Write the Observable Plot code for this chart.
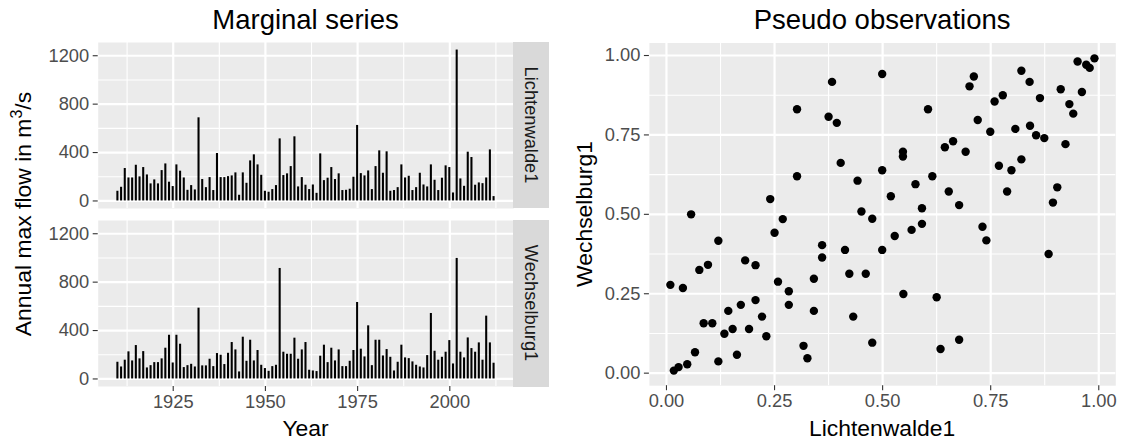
<!DOCTYPE html>
<html><head><meta charset="utf-8">
<script src="https://cdn.jsdelivr.net/npm/d3@7"></script>
<script src="https://cdn.jsdelivr.net/npm/@observablehq/plot@0.6"></script>
<style>
body{margin:0;background:#fff;font-family:"Liberation Sans",Arial,Helvetica,sans-serif;}
#wrap{position:relative;width:1123px;height:441px;overflow:hidden;background:#fff;}
#wrap svg{position:absolute;top:0;}
.t{position:absolute;white-space:nowrap;line-height:1;}
.strip{position:absolute;background:#d9d9d9;}
</style></head><body><div id="wrap"></div><script>
// ---- data ----
const stations = ["Lichtenwalde1", "Wechselburg1"];
const years = [1910,1911,1912,1913,1914,1915,1916,1917,1918,1919,
1920,1921,1922,1923,1924,1925,1926,1927,1928,1929,
1930,1931,1932,1933,1934,1935,1936,1937,1938,1939,
1940,1941,1942,1943,1944,1945,1946,1947,1948,1949,
1950,1951,1952,1953,1954,1955,1956,1957,1958,1959,
1960,1961,1962,1963,1964,1965,1966,1967,1968,1969,
1970,1971,1972,1973,1974,1975,1976,1977,1978,1979,
1980,1981,1982,1983,1984,1985,1986,1987,1988,1989,
1990,1991,1992,1993,1994,1995,1996,1997,1998,1999,
2000,2001,2002,2003,2004,2005,2006,2007,2008,2009,
2010,2011,2012];
const lichtenwalde = [80,113,268,190,190,295,199,276,215,141,
174,141,251,306,155,119,298,246,190,88,
127,91,687,177,110,193,86,392,193,193,
201,207,232,47,232,146,331,381,298,212,
80,72,94,127,513,210,224,284,530,116,
193,130,94,132,63,389,168,188,276,177,
224,86,88,97,196,624,226,207,248,94,
284,414,229,406,80,86,110,298,190,204,
86,110,229,132,116,298,171,86,188,290,
276,66,1247,182,121,403,359,130,149,143,
190,422,36];
const wechselburg = [138,99,155,224,149,276,166,226,91,110,
135,135,166,254,361,132,361,287,94,110,
121,99,585,108,108,163,102,210,196,119,
212,301,240,58,345,146,320,149,235,113,
86,63,102,113,913,221,204,204,337,163,
240,301,72,66,61,188,279,135,254,149,
240,102,102,146,235,632,246,182,439,110,
320,320,190,243,179,66,138,279,174,168,
141,113,99,91,193,541,229,155,179,221,
317,124,996,221,174,339,251,221,298,155,
519,298,130];
const pseudoU = [0.383,0.499,0.302,0.375,0.394,0.403,0.499,0.302,0.442,0.240,
0.057,0.269,0.451,0.476,0.711,0.701,0.821,0.840,0.951,0.971,
0.979,0.990,0.912,0.961,0.778,0.759,0.864,0.932,0.941,0.605,
0.720,0.749,0.807,0.841,0.855,0.874,0.923,0.663,0.644,0.692,
0.547,0.547,0.769,0.798,0.821,0.615,0.576,0.519,0.653,0.677,
0.591,0.788,0.904,0.894,0.250,0.120,0.360,0.360,0.413,0.499,
0.182,0.206,0.076,0.096,0.009,0.038,0.258,0.283,0.283,0.341,
0.341,0.423,0.461,0.432,0.476,0.206,0.172,0.143,0.221,0.086,
0.106,0.153,0.134,0.191,0.231,0.317,0.326,0.066,0.048,0.028,
0.017,0.120,0.163,0.591,0.567,0.528,0.731,0.740,0.884,0.548,
0.625,0.677,0.634];
const pseudoV = [0.917,0.942,0.831,0.807,0.788,0.662,0.639,0.620,0.606,0.548,
0.500,0.485,0.509,0.486,0.934,0.903,0.952,0.917,0.981,0.971,
0.961,0.991,0.894,0.885,0.875,0.855,0.866,0.847,0.817,0.831,
0.797,0.760,0.769,0.779,0.749,0.740,0.721,0.730,0.711,0.697,
0.697,0.682,0.653,0.639,0.673,0.620,0.595,0.557,0.572,0.529,
0.519,0.572,0.585,0.537,0.442,0.417,0.403,0.364,0.388,0.388,
0.355,0.340,0.325,0.341,0.278,0.268,0.288,0.258,0.215,0.297,
0.196,0.313,0.313,0.178,0.096,0.230,0.215,0.196,0.178,0.157,
0.157,0.139,0.124,0.139,0.116,0.086,0.047,0.066,0.028,0.019,
0.008,0.037,0.058,0.470,0.451,0.432,0.461,0.418,0.375,0.249,
0.239,0.105,0.076];
const yearTicks = [1925, 1950, 1975, 2000];
const yearMinor = [1912.5, 1937.5, 1962.5, 1987.5, 2012.5];
const flowTicks = [0, 400, 800, 1200];
const flowMinor = [200, 600, 1000];
const pTicks = [0, 0.25, 0.5, 0.75, 1];
const pMinor = [0.125, 0.375, 0.625, 0.875];

// ---- tables ----
const flowRows = [];
years.forEach((yr, i) => {
  flowRows.push({station: stations[0], year: yr, flow: lichtenwalde[i]});
  flowRows.push({station: stations[1], year: yr, flow: wechselburg[i]});
});
const pseudoRows = pseudoU.map((u, i) => ({u, v: pseudoV[i]}));

const FONT = "'Liberation Sans', Arial, Helvetica, sans-serif";
const TICK = 18.3, TITLE = 22.9, MAIN = 27.5;
const wrap = document.getElementById("wrap");

const flowMax = d3.max(flowRows, d => d.flow);
const left = Plot.plot({
  width: 550, height: 441,
  marginLeft: 97.7, marginRight: 36.7, marginTop: 41.7, marginBottom: 54.3,
  style: {fontFamily: FONT, background: "transparent", overflow: "visible"},
  x: {domain: [1904.66, 2017.35]},
  y: {domain: [-0.05 * flowMax, 1.05 * flowMax]},
  fy: {domain: stations, paddingInner: 0.0655, paddingOuter: 0, axis: null, label: null},
  marks: [
    Plot.frame({fill: "#ebebeb", stroke: null}),
    Plot.gridY(flowMinor, {stroke: "white", strokeOpacity: 1, strokeWidth: 1.1}),
    Plot.gridX(yearMinor, {stroke: "white", strokeOpacity: 1, strokeWidth: 1.1}),
    Plot.gridY(flowTicks, {stroke: "white", strokeOpacity: 1, strokeWidth: 2.2}),
    Plot.gridX(yearTicks, {stroke: "white", strokeOpacity: 1, strokeWidth: 2.2}),
    Plot.rectY(flowRows, {x1: d => d.year - 0.28, x2: d => d.year + 0.28, y1: 0, y2: "flow", fy: "station", fill: "black"}),
    Plot.axisY(flowTicks, {tickSize: 5, tickPadding: 4, fontSize: TICK, fill: "#4d4d4d", stroke: "#333", strokeWidth: 1.1, label: null, tickFormat: d => String(d)}),
    Plot.axisX(yearTicks, {tickSize: 5, tickPadding: 3, fontSize: TICK, fill: "#4d4d4d", stroke: "#333", strokeWidth: 1.1, label: null, tickFormat: d => String(d)})
  ]
});
left.style.left = "0px";
wrap.appendChild(left);

const fmt2 = d3.format(".2f");
const right = Plot.plot({
  width: 563, height: 441,
  marginLeft: 88.9, marginRight: 7.7, marginTop: 42.5, marginBottom: 55.8,
  style: {fontFamily: FONT, background: "transparent", overflow: "visible"},
  x: {domain: [-0.0395, 1.0394]},
  y: {domain: [-0.0395, 1.0394]},
  marks: [
    Plot.frame({fill: "#ebebeb", stroke: null}),
    Plot.gridY(pMinor, {stroke: "white", strokeOpacity: 1, strokeWidth: 1.1}),
    Plot.gridX(pMinor, {stroke: "white", strokeOpacity: 1, strokeWidth: 1.1}),
    Plot.gridY(pTicks, {stroke: "white", strokeOpacity: 1, strokeWidth: 2.2}),
    Plot.gridX(pTicks, {stroke: "white", strokeOpacity: 1, strokeWidth: 2.2}),
    Plot.dot(pseudoRows, {x: "u", y: "v", r: 4.2, fill: "black", stroke: null}),
    Plot.axisY(pTicks, {tickSize: 5, tickPadding: 4, fontSize: TICK, fill: "#4d4d4d", stroke: "#333", strokeWidth: 1.1, label: null, tickFormat: fmt2}),
    Plot.axisX(pTicks, {tickSize: 5, tickPadding: 3, fontSize: TICK, fill: "#4d4d4d", stroke: "#333", strokeWidth: 1.1, label: null, tickFormat: fmt2})
  ]
});
right.style.left = "560px";
wrap.appendChild(right);

// ---- strips and text ----
function strip(x, y, w, h) {
  const d = document.createElement("div");
  d.className = "strip";
  Object.assign(d.style, {left: x + "px", top: y + "px", width: w + "px", height: h + "px"});
  wrap.appendChild(d);
}
function label(html, cx, cy, size, color, rot) {
  const d = document.createElement("div");
  d.className = "t";
  d.innerHTML = html;
  Object.assign(d.style, {left: cx + "px", top: cy + "px", fontSize: size + "px", color: color,
    transform: "translate(-50%,-50%)" + (rot ? " rotate(" + rot + "deg)" : "")});
  wrap.appendChild(d);
}
strip(513.3, 41.7, 35.7, 166.6);
strip(513.3, 220, 35.7, 166.7);
label(stations[0], 531.2, 125, TICK, "#1a1a1a", 90);
label(stations[1], 531.2, 303.4, TICK, "#1a1a1a", 90);
label("Marginal series", 305.5, 19.8, MAIN, "#000");
label("Pseudo observations", 882.1, 19.8, MAIN, "#000");
label("Year", 305.5, 428, TITLE, "#000");
label("Lichtenwalde1", 882.1, 428, TITLE, "#000");
label("Annual max flow in m<sup style='font-size:0.7em;vertical-align:0.55em;line-height:0'>3</sup>/s", 23, 214.2, TITLE, "#000", -90);
label("Wechselburg1", 584, 213.8, TITLE, "#000", -90);
</script></body></html>
